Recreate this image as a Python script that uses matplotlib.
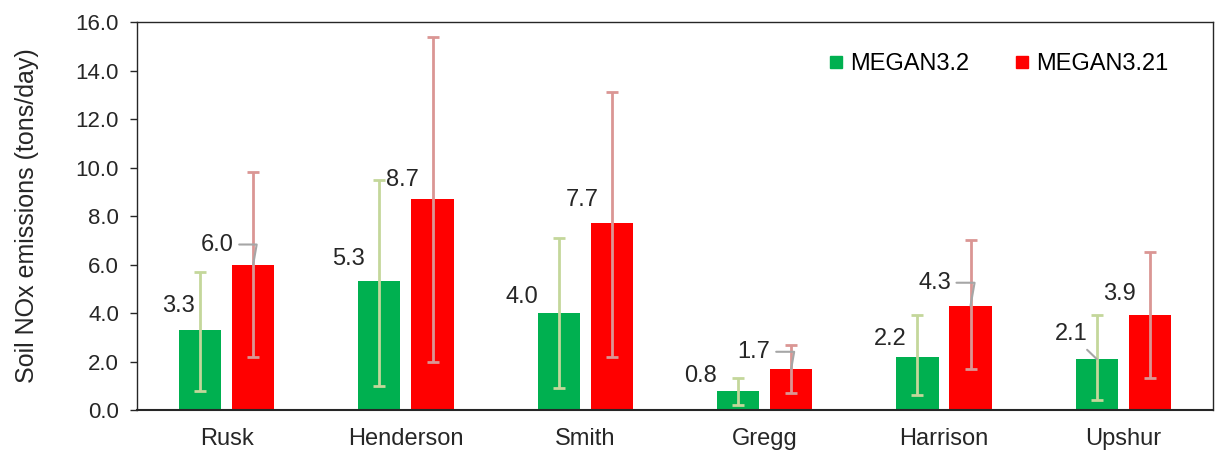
#!/usr/bin/env python3
import matplotlib as mpl
mpl.use('Agg')
import matplotlib.pyplot as plt
from matplotlib.lines import Line2D
import numpy as np

plt.rcParams['font.family'] = ['Liberation Sans', 'DejaVu Sans']

counties = ['Rusk', 'Henderson', 'Smith', 'Gregg', 'Harrison', 'Upshur']
megan32 = [3.3, 5.3, 4.0, 0.8, 2.2, 2.1]
megan32_hi = [5.7, 9.5, 7.1, 1.3, 3.9, 3.9]
megan32_lo = [0.8, 1.0, 0.9, 0.2, 0.6, 0.4]
megan321 = [6.0, 8.7, 7.7, 1.7, 4.3, 3.9]
megan321_hi = [9.8, 15.4, 13.1, 2.7, 7.0, 6.5]
megan321_lo = [2.2, 2.0, 2.2, 0.7, 1.7, 1.3]

# label offsets in pixels (dx, dy) from bar top, and leader style
off32 = [(-22, 24, None), (-31, 22, None), (-37, 16, None),
         (-38, 15, None), (-27, 18, None), (-26, 25, 'arc3')]
off321 = [(-36, 20, 'angle,angleA=0,angleB=80,rad=0'), (-30, 19, None),
          (-30, 23, None), (-37, 17, 'angle,angleA=0,angleB=80,rad=0'),
          (-36, 23, 'angle,angleA=0,angleB=80,rad=0'), (-30, 21, None)]

GREEN = '#00b050'
RED = '#ff0000'
GREEN_ERR = '#c4d79b'
RED_ERR = '#da9694'
TXT = '#262626'
FS = 17

fig = plt.figure(figsize=(12.25, 4.53), dpi=100)
ax = fig.add_axes([0.1118, 0.0949, 0.8784, 0.8565])

x = np.arange(len(counties))
w = 0.235
shift = 0.148


def draw_series(xs, vals, hi, lo, color, ecolor, offsets):
    vals = np.array(vals)
    yerr = [vals - np.array(lo), np.array(hi) - vals]
    ax.bar(xs, vals, w, color=color, zorder=2)
    ax.errorbar(xs, vals, yerr=yerr, fmt='none', ecolor=ecolor,
                elinewidth=2, capsize=4.5, capthick=2, zorder=3)
    for xi, v, (dx, dy, lead) in zip(xs, vals, offsets):
        props = None
        if lead:
            props = dict(arrowstyle='-', color='#a6a6a6', lw=1.5,
                         shrinkA=2, shrinkB=0, connectionstyle=lead)
        ax.annotate("%.1f" % v, xy=(xi, v), xytext=(dx, dy),
                    textcoords='offset pixels', ha='center', va='center',
                    fontsize=FS, color=TXT, zorder=4, arrowprops=props)


draw_series(x - shift, megan32, megan32_hi, megan32_lo, GREEN, GREEN_ERR, off32)
draw_series(x + shift, megan321, megan321_hi, megan321_lo, RED, RED_ERR, off321)

ax.set_xlim(-0.5, len(counties) - 0.5)
ax.set_ylim(0, 16)
ax.set_yticks(np.arange(0, 16.1, 2))
ax.set_yticklabels(["%.1f" % t for t in np.arange(0, 16.1, 2)])
ax.set_xticks(x)
ax.set_xticklabels(counties)
ax.tick_params(axis='x', length=0, pad=13, labelsize=FS, colors=TXT)
ax.tick_params(axis='y', length=5, width=1, direction='out', pad=8,
               labelsize=16, colors=TXT)
for s in ax.spines.values():
    s.set_color(TXT)
    s.set_linewidth(1.0)
ax.spines['bottom'].set_linewidth(1.5)
ax.set_ylabel("Soil NOx emissions (tons/day)", fontsize=18, color=TXT,
              labelpad=26)

handles = [Line2D([], [], marker='s', linestyle='none', color=GREEN, markersize=9),
           Line2D([], [], marker='s', linestyle='none', color=RED, markersize=9)]
ax.legend(handles, ['MEGAN3.2', 'MEGAN3.21'], ncol=2, frameon=False,
          loc='upper right', bbox_to_anchor=(0.978, 0.975), fontsize=FS,
          handletextpad=0.1, columnspacing=1.7, handlelength=1.0)

plt.savefig('out.png', dpi=100)
plt.close()
